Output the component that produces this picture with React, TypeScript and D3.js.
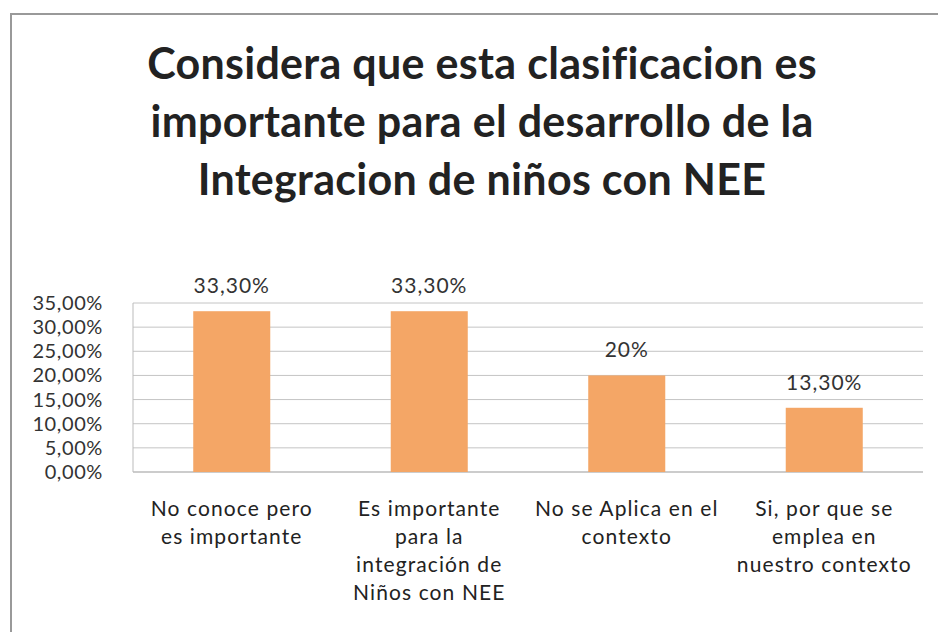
import React from "react";
import {scaleBand, scaleLinear} from "d3";

const categories = [
  ["No conoce pero", "es importante"],
  ["Es importante", "para la", "integración de", "Niños con NEE"],
  ["No se Aplica en el", "contexto"],
  ["Si, por que se", "emplea en", "nuestro contexto"]
];
const values = [33.3, 33.3, 20, 13.3];
const valueLabels = ["33,30%", "33,30%", "20%", "13,30%"];
const yTicks = [0, 5, 10, 15, 20, 25, 30, 35];
const titleLines = [
  "Considera que esta clasificacion es",
  "importante para el desarrollo de la",
  "Integracion de niños con NEE"
];

export default function App() {
  React.useEffect(() => {
    document.body.style.margin = "0";
  }, []);

  const width = 938;
  const height = 632;
  const left = 133;
  const right = 923;
  const top = 303;
  const bottom = 472;

  const xScale = scaleBand<number>()
    .domain(values.map((d, i) => i))
    .range([left, right])
    .paddingInner(0.61)
    .paddingOuter(0.305);
  const yScale = scaleLinear().domain([0, 35]).range([bottom, top]);

  const fmt = (v: number) => v.toFixed(2).replace(".", ",") + "%";

  return (
    <svg width={width} height={height} style={{display: "block", background: "#fff"}}>
      {/* frame */}
      <line x1={11} y1={14} x2={width} y2={14} stroke="#999" strokeWidth={2}/>
      <line x1={11} y1={13} x2={11} y2={height} stroke="#999" strokeWidth={2}/>

      {titleLines.map((t, i) => (
        <text key={t} x={482} y={79 + i * 58} textAnchor="middle"
              style={{fontFamily: "Lato", fontWeight: 700, fontSize: "43px", letterSpacing: "0.3px", fill: "#222"}}>
          {t}
        </text>
      ))}

      {yTicks.map(t => (
        <g key={t} transform={`translate(0,${yScale(t)})`}>
          <line x1={left} x2={right} stroke={t === 0 ? "#999" : "#c4c4c4"} strokeWidth={1}/>
          <text x={103} dy="0.35em" textAnchor="end"
                style={{fontFamily: "Lato", fontSize: "20px", letterSpacing: "0.6px", fill: "#333"}}>
            {fmt(t)}
          </text>
        </g>
      ))}
      <line x1={left} x2={left} y1={top} y2={bottom} stroke="#bbb"/>

      {values.map((v, i) => (
        <g key={i}>
          <rect x={xScale(i)} y={yScale(v)} width={xScale.bandwidth()} height={bottom - yScale(v)}
                fill="#f4a666"/>
          <text x={xScale(i)! + xScale.bandwidth() / 2} y={yScale(v) - 18} textAnchor="middle"
                style={{fontFamily: "Lato", fontSize: "21px", letterSpacing: "1px", fill: "#333"}}>
            {valueLabels[i]}
          </text>
        </g>
      ))}

      {categories.map((lines, i) => (
        <text key={i} textAnchor="middle"
              style={{fontFamily: "Lato", fontSize: "21px", letterSpacing: "1.1px", fill: "#222"}}>
          {lines.map((l, j) => (
            <tspan key={j} x={xScale(i)! + xScale.bandwidth() / 2} y={516 + j * 28}>{l}</tspan>
          ))}
        </text>
      ))}
    </svg>
  );
}
